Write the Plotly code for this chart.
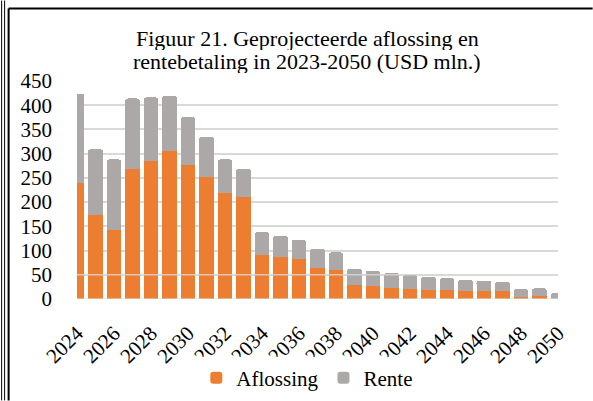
import plotly.graph_objects as go

years = list(range(2024, 2051))
aflossing = [240, 173, 143, 268, 285, 306, 277, 251, 218, 211, 91, 86, 82, 64, 60,
             29, 26, 23, 21, 19, 19, 17, 17, 17, 5, 7, 0]
rente = [184, 136, 145, 146, 131, 114, 98, 83, 70, 58, 47, 44, 40, 39, 36,
         33, 32, 31, 28, 27, 24, 23, 21, 19, 15, 15, 12]
tick_years = list(range(2024, 2051, 2))

W, H = 593, 401
L, R, T, B = 76.5, 558.3, 80.7, 299.3   # plot area in pixels


def px(x):
    return (x - L) / (R - L)


def py(y):
    return (B - y) / (B - T)


serif = "Times New Roman, Liberation Serif, serif"
txt = dict(family=serif, size=21, color="black")

fig = go.Figure()
fig.add_trace(go.Bar(x=years, y=aflossing, name="Aflossing", marker_color="#ED7D31",
                     marker_line_width=0))
fig.add_trace(go.Bar(x=years, y=rente, name="Rente", marker_color="#ABA8A7",
                     marker_line_width=0))

shapes = []
# faint lines drawn over the bars near the base, as in the source
for v in [0, 50]:
    shapes.append(dict(type="line", xref="paper", yref="y", x0=0, x1=1, y0=v, y1=v,
                       line=dict(color="rgba(217,217,217,0.8)", width=1.5), layer="above"))
# page frame
shapes.append(dict(type="line", xref="paper", yref="paper", x0=px(8), x1=px(8),
                   y0=py(8), y1=py(401), line=dict(color="black", width=2)))
shapes.append(dict(type="line", xref="paper", yref="paper", x0=px(8), x1=px(593),
                   y0=py(8), y1=py(8), line=dict(color="black", width=2)))
for xx in [1, 4]:
    shapes.append(dict(type="line", xref="paper", yref="paper", x0=px(xx), x1=px(xx),
                       y0=py(0), y1=py(401), line=dict(color="black", width=1)))

annotations = [
    dict(text="Figuur 21. Geprojecteerde aflossing en", xref="paper", yref="paper",
         x=px(307), y=py(38), yanchor="middle", showarrow=False, height=23,
         font=dict(family=serif, size=22, color="black")),
    dict(text="rentebetaling in 2023-2050 (USD mln.)", xref="paper", yref="paper",
         x=px(307), y=py(61), yanchor="middle", showarrow=False, height=23,
         font=dict(family=serif, size=22, color="black")),
]

fig.update_layout(
    width=W, height=H,
    margin=dict(l=L, r=W - R, t=T, b=H - B, autoexpand=False),
    barmode="stack", bargap=0.19, barcornerradius=3,
    plot_bgcolor="white", paper_bgcolor="white",
    font=txt,
    shapes=shapes, annotations=annotations,
    legend=dict(orientation="h", traceorder="normal", x=px(196), xanchor="left",
                y=py(378.5), yanchor="middle", font=txt, itemwidth=30),
    xaxis=dict(range=[2024, 2050], tickvals=tick_years, ticktext=[str(y) for y in tick_years],
               tickangle=-45, showgrid=False, zeroline=False, showline=False,
               tickfont=txt, ticklabelstandoff=17, automargin=False),
    yaxis=dict(range=[0, 450], dtick=50, showgrid=True, gridcolor="#D9D9D9", gridwidth=1.5,
               zeroline=False, showline=False, tickfont=txt, ticklabelstandoff=24,
               automargin=False),
)

# drop the browser's default page margin so the figure sits at the window corner
fig.write_html("out.html", config={"displayModeBar": False},
               post_script="document.body.style.margin='0';")
